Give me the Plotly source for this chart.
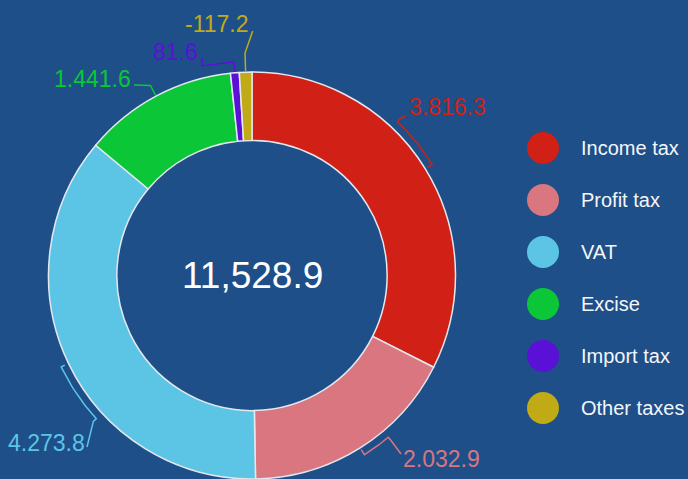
import math
import plotly.graph_objects as go

# ---- data ----
categories = ["Income tax", "Profit tax", "VAT", "Excise", "Import tax", "Other taxes"]
values = [3816.3, 2032.9, 4273.8, 1441.6, 81.6, -117.2]
total_label = 11528.9
colors = ["#d12015", "#d97680", "#5cc5e5", "#0bc637", "#5a10d6", "#c0ab17"]

# ---- layout constants (pixels) ----
W, H = 688, 479
CX, CY, R = 252, 275.5, 203.5
HOLE = 0.664
BG = "#1f4f89"
FONT = "Liberation Sans, Arial, sans-serif"

sizes = [abs(v) for v in values]
tot = sum(sizes)
mids = []
acc = 0.0
for s in sizes:
    mids.append((acc + s / 2) / tot * 360.0)
    acc += s


def pt(theta, r):
    t = math.radians(theta)
    return CX + r * math.sin(t), CY - r * math.cos(t)


def fmt(v):
    return f"{v:,.1f}".replace(",", ".")


# label styling / placement (pixels)
label_spec = [
    dict(kind="bracket", span=15, tick=(3, 8), text=(407, 107), anchor="left", ends=[(405, 116)]),
    dict(kind="bracket", span=8, tick=(2, 8), text=(401, 459), anchor="left", ends=[(401, 454)]),
    dict(kind="bracket", span=17, tick=(4, 8), text=(87, 443), anchor="right", ends=[(87, 447)]),
    dict(kind="elbow", elbow=12, text=(133, 79), anchor="right", ends=[(134, 85)]),
    dict(kind="elbow", elbow=11, text=(200, 52), anchor="right", ends=[(202, 66), (202, 58)]),
    dict(kind="elbow", elbow=19, text=(251, 24), anchor="right", ends=[(252.7, 31)]),
]

fig = go.Figure()

fig.add_trace(go.Pie(
    labels=categories,
    values=sizes,
    sort=False,
    direction="clockwise",
    rotation=0,
    hole=HOLE,
    marker=dict(colors=colors, line=dict(color="#e4e8ee", width=1.5)),
    textinfo="none",
    showlegend=False,
    domain=dict(x=[(CX - R) / W, (CX + R) / W], y=[0, (2 * R) / H]),
    hoverinfo="label+value",
))

annotations = []
for i, spec in enumerate(label_spec):
    m = mids[i]
    xs, ys = [], []
    if spec["kind"] == "bracket":
        t0, t1 = spec["tick"]
        p = pt(m, R + t0); xs.append(p[0]); ys.append(p[1])
        n = 20
        for k in range(n + 1):
            a = m - spec["span"] * k / n
            p = pt(a, R + t1); xs.append(p[0]); ys.append(p[1])
        p = pt(m - spec["span"], R + t1 + 4); xs.append(p[0]); ys.append(p[1])
    else:
        p = pt(m, R + 1); xs.append(p[0]); ys.append(p[1])
        p = pt(m, R + spec["elbow"]); xs.append(p[0]); ys.append(p[1])
    for e in spec["ends"]:
        xs.append(e[0]); ys.append(e[1])
    fig.add_trace(go.Scatter(
        x=xs, y=ys, mode="lines", line=dict(color=colors[i], width=1.5),
        showlegend=False, hoverinfo="skip", xaxis="x", yaxis="y",
    ))
    annotations.append(dict(
        x=spec["text"][0], y=spec["text"][1], xref="x", yref="y",
        text=fmt(values[i]), showarrow=False,
        xanchor=spec["anchor"], yanchor="middle",
        font=dict(family=FONT, size=23, color=colors[i]),
    ))

# custom legend
LEG_X, LEG_Y0, LEG_DY = 543, 148, 52
leg_y = [LEG_Y0 + LEG_DY * i for i in range(len(categories))]
fig.add_trace(go.Scatter(
    x=[LEG_X] * len(categories), y=leg_y, mode="markers",
    marker=dict(size=32, color=colors, line=dict(width=0)),
    showlegend=False, hoverinfo="skip", xaxis="x", yaxis="y",
))
for i, c in enumerate(categories):
    annotations.append(dict(
        x=LEG_X + 36, y=leg_y[i], xref="x", yref="y", text=c, showarrow=False,
        xanchor="left", yanchor="middle",
        font=dict(family=FONT, size=20, color="#f4f6f8"),
    ))

# center total
annotations.append(dict(
    x=CX, y=CY, xref="x", yref="y", text=f"{total_label:,.1f}", showarrow=False,
    xanchor="center", yanchor="middle",
    font=dict(family=FONT, size=37, color="#ffffff"),
))

fig.update_layout(
    width=W, height=H,
    margin=dict(l=0, r=0, t=0, b=0),
    paper_bgcolor=BG, plot_bgcolor="rgba(0,0,0,0)",
    xaxis=dict(range=[0, W], visible=False, fixedrange=True, domain=[0, 1]),
    yaxis=dict(range=[H, 0], visible=False, fixedrange=True, domain=[0, 1]),
    annotations=annotations,
    showlegend=False,
)

fig.write_html(
    "out.html",
    config={"displayModeBar": False},
    post_script=(
        "document.body.style.margin='0';"
        "document.body.style.padding='0';"
        "document.body.style.overflow='hidden';"
        "document.body.style.background='" + BG + "';"
    ),
)
